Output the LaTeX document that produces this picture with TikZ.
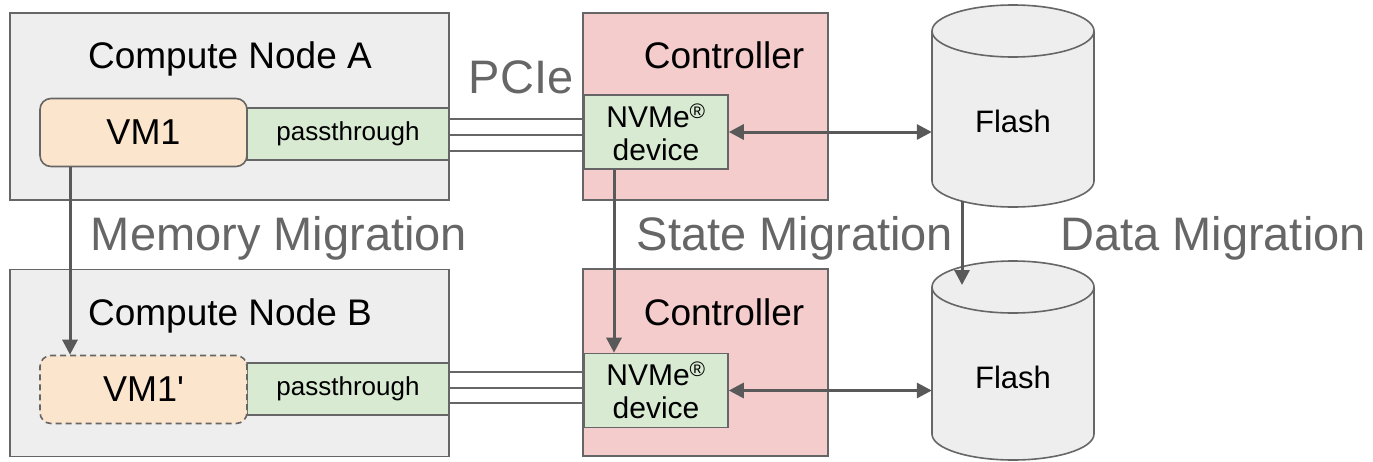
\documentclass[tikz,border=0pt]{standalone}
\usepackage{fontspec}
\setmainfont{Liberation Sans}
\newfontfamily\plainsans{Liberation Sans}
\usetikzlibrary{arrows.meta}

\definecolor{edgegray}{HTML}{666666}
\definecolor{arrowgray}{HTML}{595959}
\definecolor{hostfill}{HTML}{EEEEEE}
\definecolor{vmfill}{HTML}{FCE5CD}
\definecolor{devfill}{HTML}{D9EAD3}
\definecolor{ctrlfill}{HTML}{F4CCCC}
\definecolor{labelgray}{HTML}{666666}

\newcommand{\fs}[2]{\fontsize{#1}{#2}\selectfont}

\tikzset{
  boxbase/.style={draw=edgegray, line width=1.6pt, inner sep=0pt, align=center},
  hostbox/.style={boxbase, fill=hostfill, minimum width=439pt, minimum height=187pt},
  ctrlbox/.style={boxbase, fill=ctrlfill, minimum width=245pt, minimum height=187pt},
  vmbox/.style={boxbase, fill=vmfill, rounded corners=11pt, minimum width=207pt, minimum height=68pt, font=\fs{36}{40}},
  passbox/.style={boxbase, fill=devfill, minimum width=202pt, minimum height=52pt, font=\fs{26}{30}},
  nvmebox/.style={boxbase, fill=devfill, minimum width=144pt, minimum height=74pt, font=\fs{30}{33}},
  flashspan/.style={inner sep=0pt, minimum width=162pt, minimum height=202pt, font=\fs{31}{34}},
  cyl/.style={draw=edgegray, line width=1.6pt, fill=hostfill},
  title/.style={anchor=base, font=\fs{37}{40}},
  biglabel/.style={anchor=base, font=\fs{47}{50}, text=labelgray},
  pcieline/.style={draw=edgegray, line width=1.4pt},
  arr/.style={draw=arrowgray, line width=3pt, -{Triangle[length=15pt,width=15pt]}},
  biarr/.style={draw=arrowgray, line width=3pt, {Triangle[length=15pt,width=15pt]}-{Triangle[length=15pt,width=15pt]}},
}

\begin{document}
\begin{tikzpicture}[x=1pt, y=-1pt]
  \fill[white] (0,0) rectangle (1373,461);
  \useasboundingbox (0,0) rectangle (1373,461);

  % ---- hosts ----
  \node[hostbox] (hostA) at (229.5,106.5) {};
  \node[hostbox] (hostB) at (229.5,363) {};
  \node[title] (hostAlabel) at (230,68) {Compute Node A};
  \node[title] (hostBlabel) at (230,325) {Compute Node B};

  \node[passbox] (passA) at (348,134) {passthrough};
  \node[passbox] (passB) at (348,389) {passthrough};
  \node[vmbox] (vmA) at (143.5,132.5) {VM1};
  \node[vmbox, dash pattern=on 6pt off 4pt] (vmB) at (143.5,389.5) {\plainsans VM1'};

  % ---- controllers ----
  \node[ctrlbox] (ctrlA) at (705.5,106.5) {};
  \node[ctrlbox] (ctrlB) at (705.5,362.5) {};
  \node[title] (ctrlAlabel) at (724,68) {Controller};
  \node[title] (ctrlBlabel) at (724,325) {Controller};
  \node[nvmebox] (nvmeA) at (656,132) {NVMe\textsuperscript{®}\\device};
  \node[nvmebox] (nvmeB) at (656,390.5) {NVMe\textsuperscript{®}\\device};

  % ---- flash cylinders ----
  \foreach \top/\bot in {31/181, 287/434} {
    \path[cyl] (932,\top) -- (932,\bot)
      arc[start angle=180, end angle=0, x radius=81, y radius=26]
      -- (1094,\top)
      arc[start angle=0, end angle=-180, x radius=81, y radius=26] -- cycle;
    \draw[edgegray, line width=1.6pt] (932,\top)
      arc[start angle=180, end angle=0, x radius=81, y radius=26];
  }
  \node[flashspan] (flashA) at (1013,121) {Flash};
  \node[flashspan] (flashB) at (1013,377) {Flash};
  \coordinate (flashAfoot) at (962,201);
  \coordinate (flashBtop) at (962,285);

  % ---- PCIe links ----
  \foreach \d in {15,-1,-17} {
    \draw[pcieline] ([yshift=\d pt]passA.east) -- ([yshift=\d pt]passA.east -| nvmeA.west);
  }
  \foreach \d in {17,1,-14} {
    \draw[pcieline] ([yshift=\d pt]passB.east) -- ([yshift=\d pt]passB.east -| nvmeB.west);
  }

  % ---- device to flash ----
  \draw[biarr] (nvmeA.east) -- (nvmeA.east -| flashA.west);
  \draw[biarr] (nvmeB.east) -- (nvmeB.east -| flashB.west);

  % ---- migrations ----
  \draw[arr] ([xshift=-73.5pt]vmA.south) -- ([xshift=-73.5pt]vmB.north);
  \draw[arr] ([xshift=-42pt]nvmeA.south) -- ([xshift=-42pt]nvmeB.north);
  \draw[arr] (flashAfoot) -- (flashBtop);

  \node[biglabel] (pcie) at (521,93) {PCIe};
  \node[biglabel] (memmig) at (279,250) {Memory Migration};
  \node[biglabel] (statemig) at (795,250) {State Migration};
  \node[biglabel] (datamig) at (1213,250) {Data Migration};
\end{tikzpicture}
\end{document}
